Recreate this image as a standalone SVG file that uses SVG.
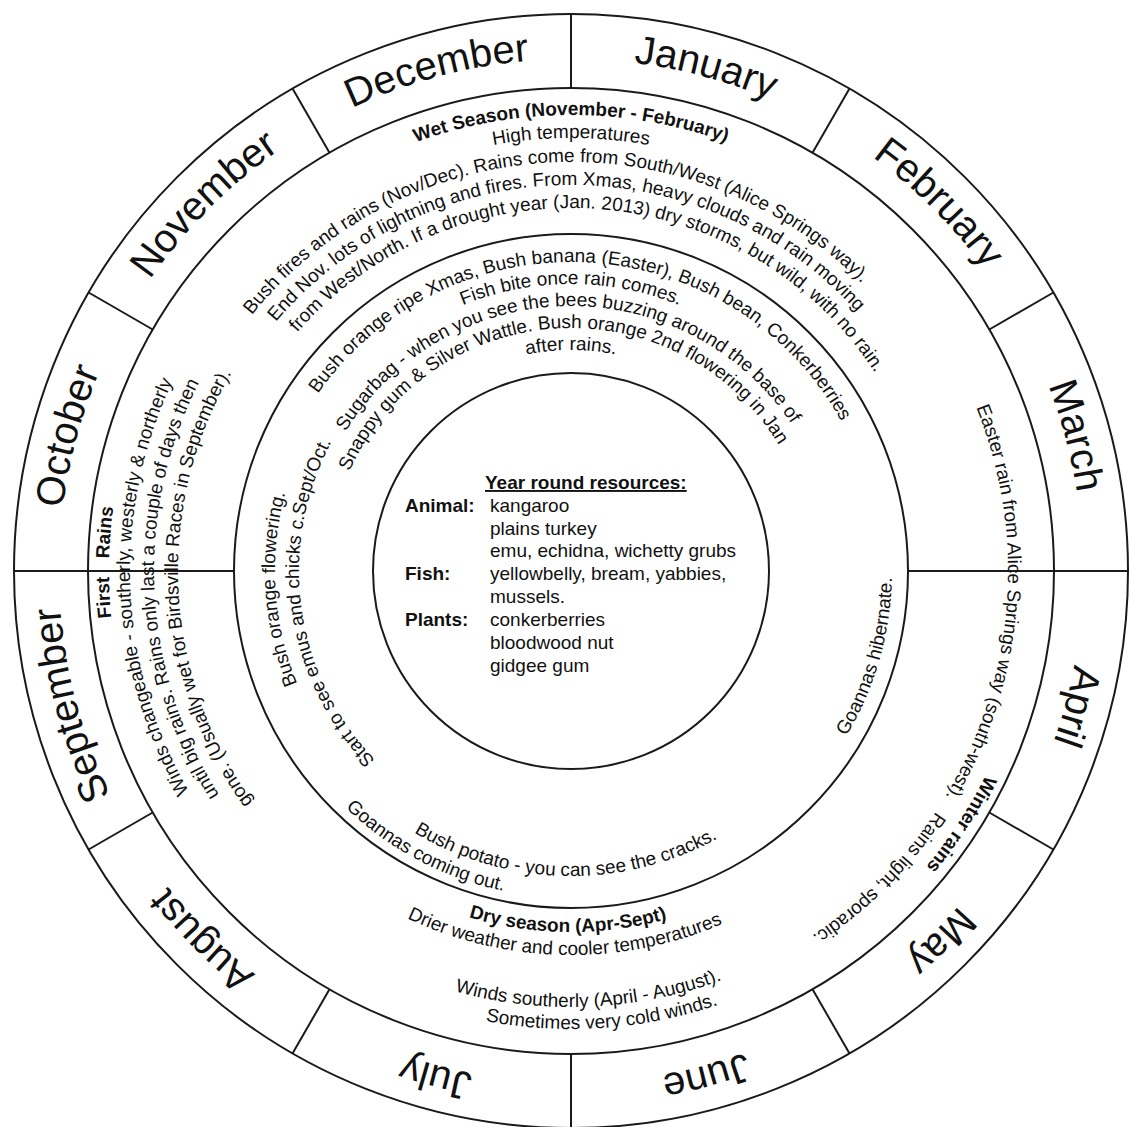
<svg xmlns="http://www.w3.org/2000/svg" xmlns:xlink="http://www.w3.org/1999/xlink" width="1129" height="1127" viewBox="0 0 1129 1127">
<style>
text{font-family:"Liberation Sans",Arial,sans-serif;fill:#111;}
.m{font-size:40px;}
.t{font-size:19px;}
.b{font-size:19px;font-weight:bold;}
.ring{fill:none;stroke:#1a1a1a;stroke-width:2;}
.div{stroke:#1a1a1a;stroke-width:2;}
</style>
<defs>
<path id="cw512" d="M482.09 1075.22 A512 512 0 1 1 659.91 1075.22"/>
<path id="cw462" d="M490.77 1025.98 A462 462 0 1 1 651.23 1025.98"/>
<path id="cw456" d="M491.82 1020.07 A456 456 0 1 1 650.18 1020.07"/>
<path id="cw441" d="M494.42 1005.30 A441 441 0 1 1 647.58 1005.30"/>
<path id="cw437" d="M495.11 1001.36 A437 437 0 1 1 646.89 1001.36"/>
<path id="cw433" d="M495.81 997.42 A433 433 0 1 1 646.19 997.42"/>
<path id="cw417" d="M498.59 981.67 A417 417 0 1 1 643.41 981.67"/>
<path id="cw409" d="M499.98 973.79 A409 409 0 1 1 642.02 973.79"/>
<path id="cw393" d="M502.76 958.03 A393 393 0 1 1 639.24 958.03"/>
<path id="cw386" d="M503.97 951.14 A386 386 0 1 1 638.03 951.14"/>
<path id="cw363" d="M507.97 928.49 A363 363 0 1 1 634.03 928.49"/>
<path id="cw309" d="M517.34 875.31 A309 309 0 1 1 624.66 875.31"/>
<path id="cw296" d="M519.60 862.50 A296 296 0 1 1 622.40 862.50"/>
<path id="cw287" d="M521.16 853.64 A287 287 0 1 1 620.84 853.64"/>
<path id="cw272" d="M523.77 838.87 A272 272 0 1 1 618.23 838.87"/>
<path id="cw265" d="M524.98 831.97 A265 265 0 1 1 617.02 831.97"/>
<path id="cw243" d="M528.80 810.31 A243 243 0 1 1 613.20 810.31"/>
<path id="cw221" d="M532.62 788.64 A221 221 0 1 1 609.38 788.64"/>
<path id="cc321" d="M515.26 254.88 A321 321 0 1 0 626.74 254.88"/>
<path id="cc305" d="M518.04 270.63 A305 305 0 1 0 623.96 270.63"/>
<path id="cc327" d="M514.22 248.97 A327 327 0 1 0 627.78 248.97"/>
<path id="cc361" d="M508.31 215.48 A361 361 0 1 0 633.69 215.48"/>
<path id="cc384" d="M504.32 192.83 A384 384 0 1 0 637.68 192.83"/>
<path id="cc436" d="M495.29 141.62 A436 436 0 1 0 646.71 141.62"/>
<path id="cc458" d="M491.47 119.96 A458 458 0 1 0 650.53 119.96"/>
</defs>
<rect width="1129" height="1127" fill="#fff"/>

<g id="rings">
<circle class="ring" cx="571" cy="571" r="557"/>
<circle class="ring" cx="571" cy="571" r="483"/>
<circle class="ring" cx="571" cy="571" r="337"/>
<circle class="ring" cx="571" cy="571" r="198"/>
</g>

<g id="connectors">
<line class="div" x1="571" y1="88" x2="571" y2="14"/>
<line class="div" x1="812.5" y1="152.7" x2="849.5" y2="88.6"/>
<line class="div" x1="989.3" y1="329.5" x2="1053.4" y2="292.5"/>
<line class="div" x1="908" y1="571" x2="1128" y2="571"/>
<line class="div" x1="989.3" y1="812.5" x2="1053.4" y2="849.5"/>
<line class="div" x1="812.5" y1="989.3" x2="849.5" y2="1053.4"/>
<line class="div" x1="571" y1="1054" x2="571" y2="1128"/>
<line class="div" x1="329.5" y1="989.3" x2="292.5" y2="1053.4"/>
<line class="div" x1="152.7" y1="812.5" x2="88.6" y2="849.5"/>
<line class="div" x1="234" y1="571" x2="14" y2="571"/>
<line class="div" x1="152.7" y1="329.5" x2="88.6" y2="292.5"/>
<line class="div" x1="329.5" y1="152.7" x2="292.5" y2="88.6"/>
</g>

<g id="months" text-anchor="middle">
<g id="m-dec" transform="rotate(-15 571 571)"><text class="m"><textPath href="#cw512" startOffset="50%">December</textPath></text></g>
<g id="m-jan" transform="rotate(15 571 571)"><text class="m"><textPath href="#cw512" startOffset="50%">January</textPath></text></g>
<g id="m-feb" transform="rotate(45 571 571)"><text class="m"><textPath href="#cw512" startOffset="50%">February</textPath></text></g>
<g id="m-mar" transform="rotate(75 571 571)"><text class="m"><textPath href="#cw512" startOffset="50%">March</textPath></text></g>
<g id="m-apr" transform="rotate(105 571 571)"><text class="m"><textPath href="#cw512" startOffset="50%">April</textPath></text></g>
<g id="m-may" transform="rotate(135 571 571)"><text class="m"><textPath href="#cw512" startOffset="50%">May</textPath></text></g>
<g id="m-jun" transform="rotate(165 571 571)"><text class="m"><textPath href="#cw512" startOffset="50%">June</textPath></text></g>
<g id="m-jul" transform="rotate(195 571 571)"><text class="m"><textPath href="#cw512" startOffset="50%">July</textPath></text></g>
<g id="m-aug" transform="rotate(225 571 571)"><text class="m"><textPath href="#cw512" startOffset="50%">August</textPath></text></g>
<g id="m-sep" transform="rotate(255 571 571)"><text class="m"><textPath href="#cw512" startOffset="50%">September</textPath></text></g>
<g id="m-oct" transform="rotate(285 571 571)"><text class="m"><textPath href="#cw512" startOffset="50%">October</textPath></text></g>
<g id="m-nov" transform="rotate(315 571 571)"><text class="m"><textPath href="#cw512" startOffset="50%">November</textPath></text></g>
</g>

<g id="wet-season" text-anchor="middle">
<text class="b"><textPath href="#cw456" startOffset="50%">Wet Season (November - February)</textPath></text>
<text class="t"><textPath href="#cw433" startOffset="50%">High temperatures</textPath></text>
<g transform="rotate(-3 571 571)"><text class="t"><textPath href="#cw409" startOffset="50%">Bush fires and rains (Nov/Dec). Rains come from South/West (Alice Springs way).</textPath></text></g>
<g transform="rotate(-1 571 571)"><text class="t"><textPath href="#cw386" startOffset="50%">End Nov. lots of lightning and fires. From Xmas, heavy clouds and rain moving</textPath></text></g>
<g transform="rotate(4 571 571)"><text class="t"><textPath href="#cw363" startOffset="50%">from West/North. If a drought year (Jan. 2013) dry storms, but wild, with no rain.</textPath></text></g>
</g>

<g id="wet-resources" text-anchor="middle">
<g transform="rotate(3 571 571)"><text class="t"><textPath href="#cw309" startOffset="50%">Bush orange ripe Xmas, Bush banana (Easter), Bush bean, Conkerberries</textPath></text></g>
<text class="t"><textPath href="#cw287" startOffset="50%">Fish bite once rain comes.</textPath></text>
<g transform="rotate(-1 571 571)"><text class="t"><textPath href="#cw265" startOffset="50%">Sugarbag - when you see the bees buzzing around the base of</textPath></text></g>
<g transform="rotate(-3.5 571 571)"><text class="t"><textPath href="#cw243" startOffset="50%">Snappy gum &amp; Silver Wattle. Bush orange 2nd flowering in Jan</textPath></text></g>
<text class="t"><textPath href="#cw221" startOffset="50%">after rains.</textPath></text>
</g>

<g id="first-rains">
<g transform="rotate(264.2 571 571)"><text class="b"><textPath href="#cw462" startOffset="50%">First<tspan dx="18">Rains</tspan></textPath></text></g>
<g transform="rotate(240 571 571)"><text class="t"><textPath href="#cw441" startOffset="50%">Winds changeable - southerly, westerly &amp; northerly</textPath></text></g>
<g transform="rotate(237.5 571 571)"><text class="t"><textPath href="#cw417" startOffset="50%">until big rains. Rains only last a couple of days then</textPath></text></g>
<g transform="rotate(234 571 571)"><text class="t"><textPath href="#cw393" startOffset="50%">gone. (Usually wet for Birdsville Races in September).</textPath></text></g>
</g>

<g id="spring-resources">
<g transform="rotate(247.6 571 571)"><text class="t"><textPath href="#cw296" startOffset="50%">Bush orange flowering.</textPath></text></g>
<g transform="rotate(226 571 571)"><text class="t"><textPath href="#cw272" startOffset="50%">Start to see emus and chicks c.Sept/Oct.</textPath></text></g>
</g>

<g id="winter-rains">
<g transform="rotate(68 571 571)"><text class="t"><textPath href="#cw437" startOffset="50%">Easter rain from Alice Springs way (south-west).</textPath></text></g>
<g transform="rotate(123.4 571 571)"><text class="t"><textPath href="#cw437" startOffset="50%">Rains light, sporadic.</textPath></text></g>
<g transform="rotate(123 571 571)"><text class="b" text-anchor="middle"><textPath href="#cw462" startOffset="50%">Winter rains</textPath></text></g>
</g>

<g id="autumn-resources">
<g transform="rotate(-59 571 571)"><text class="t"><textPath href="#cc321" startOffset="50%">Goannas hibernate.</textPath></text></g>
<g transform="rotate(31 571 571)"><text class="t"><textPath href="#cc305" startOffset="50%">Bush potato - you can see the cracks.</textPath></text></g>
<g transform="rotate(43.6 571 571)"><text class="t"><textPath href="#cc327" startOffset="50%">Goannas coming out.</textPath></text></g>
</g>

<g id="dry-season" text-anchor="middle">
<g transform="rotate(0.5 571 571)"><text class="b"><textPath href="#cc361" startOffset="50%">Dry season (Apr-Sept)</textPath></text></g>
<g transform="rotate(1 571 571)"><text class="t"><textPath href="#cc384" startOffset="50%">Drier weather and cooler temperatures</textPath></text></g>
<g transform="rotate(-2.4 571 571)"><text class="t"><textPath href="#cc436" startOffset="50%">Winds southerly (April - August).</textPath></text></g>
<g transform="rotate(-4 571 571)"><text class="t"><textPath href="#cc458" startOffset="50%">Sometimes very cold winds.</textPath></text></g>
</g>

<g id="year-round">
<text class="b" x="485" y="489" text-decoration="underline">Year round resources:</text>
<text class="b" x="405" y="512">Animal:</text>
<text class="b" x="405" y="580">Fish:</text>
<text class="b" x="405" y="626">Plants:</text>
<text class="t" x="490" y="512">kangaroo</text>
<text class="t" x="490" y="535">plains turkey</text>
<text class="t" x="490" y="557">emu, echidna, wichetty grubs</text>
<text class="t" x="490" y="580">yellowbelly, bream, yabbies,</text>
<text class="t" x="490" y="603">mussels.</text>
<text class="t" x="490" y="626">conkerberries</text>
<text class="t" x="490" y="649">bloodwood nut</text>
<text class="t" x="490" y="672">gidgee gum</text>
</g>
</svg>
